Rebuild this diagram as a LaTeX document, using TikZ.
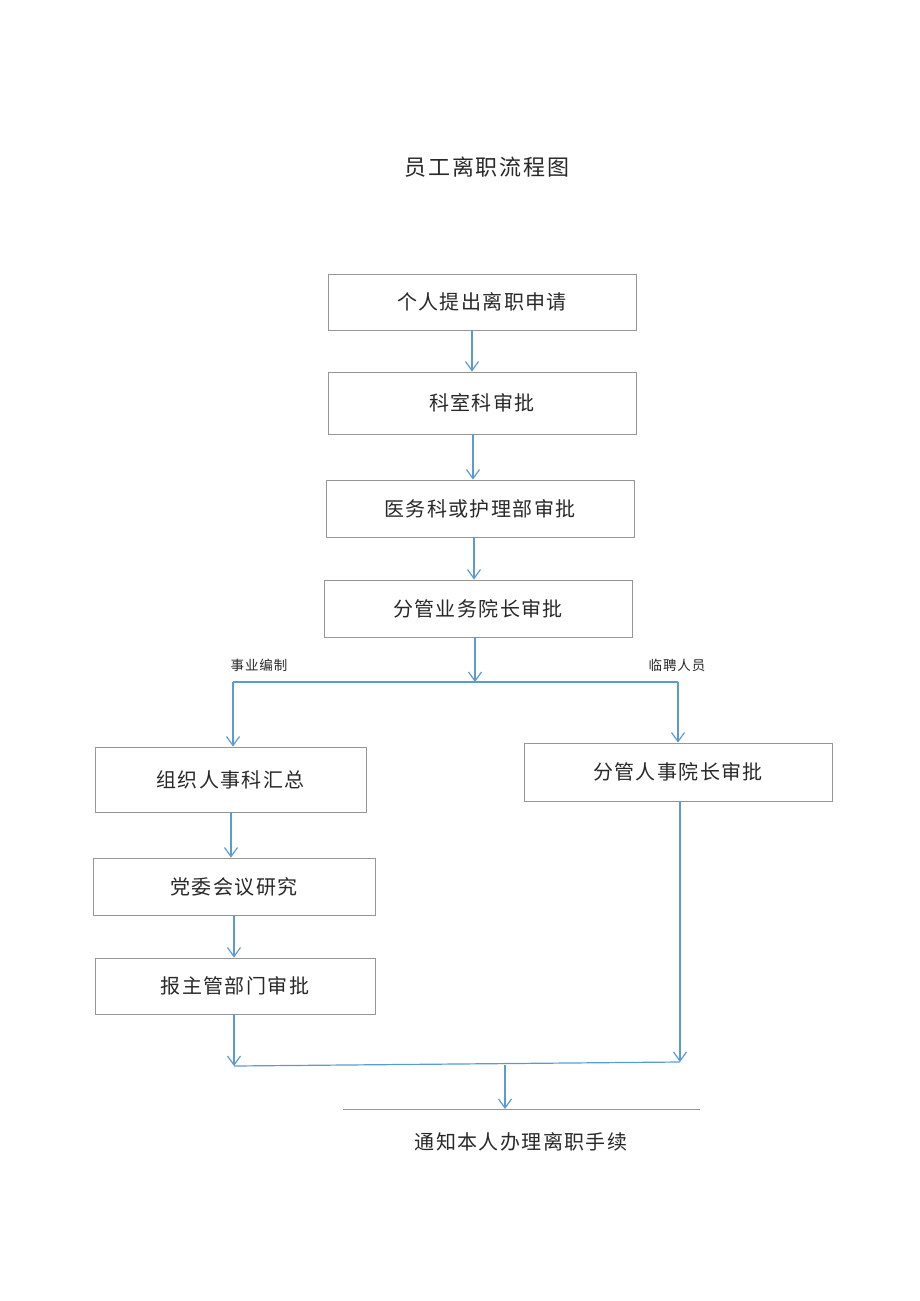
\documentclass[tikz,border=0pt]{standalone}
\usepackage{fontspec}
\newfontfamily\cjk{Noto Sans CJK SC}
\newfontfamily\cjks[LetterSpace=7]{Noto Sans CJK SC}
\newfontfamily\cjkt[LetterSpace=9]{Noto Sans CJK SC}
\usetikzlibrary{arrows.meta}
\definecolor{arrowblue}{RGB}{91,155,213}
\definecolor{boxgray}{RGB}{150,150,150}
\definecolor{txt}{RGB}{40,40,40}
\tikzset{
  stepbox/.style={draw=boxgray, line width=0.9pt, rectangle, inner sep=0pt, text=txt, font=\cjks\fontsize{20}{22}\selectfont},
  arr/.style={draw=arrowblue, line width=1.2pt, -{Straight Barb[length=9pt,width=13pt,line width=1.2pt]}},
  ln/.style={draw=arrowblue, line width=1.2pt},
  lbl/.style={text=txt, font=\cjks\fontsize{13.5}{15}\selectfont, inner sep=0pt}
}
\begin{document}
\begin{tikzpicture}[x=1pt,y=-1pt]
\useasboundingbox (0,0) rectangle (920,1301);
\node[text=txt, font=\cjkt\fontsize{22}{24}\selectfont, inner sep=0pt] (title) at (487,167) {员工离职流程图};
\node[stepbox, minimum width=308pt, minimum height=56pt] (b1) at (482,302) {个人提出离职申请};
\node[stepbox, minimum width=308pt, minimum height=62pt] (b2) at (482,403) {科室科审批};
\node[stepbox, minimum width=308pt, minimum height=57pt] (b3) at (480,508.5) {医务科或护理部审批};
\node[stepbox, minimum width=308pt, minimum height=57pt] (b4) at (478,608.5) {分管业务院长审批};
\node[stepbox, minimum width=271pt, minimum height=65pt] (b5) at (230.5,779.5) {组织人事科汇总};
\node[stepbox, minimum width=308pt, minimum height=58pt] (b6) at (678,772) {分管人事院长审批};
\node[stepbox, minimum width=282pt, minimum height=57pt] (b7) at (234,886.5) {党委会议研究};
\node[stepbox, minimum width=280pt, minimum height=56pt] (b8) at (235,986) {报主管部门审批};
\node[lbl] (l1) at (259,665) {事业编制};
\node[lbl] (l2) at (677,665) {临聘人员};
\coordinate (x1) at (472,0);
\coordinate (x2) at (473,0);
\coordinate (x3) at (474,0);
\coordinate (x5) at (231,0);
\coordinate (x7) at (234,0);
\coordinate (split) at (475,682);
\coordinate (sl) at (233,682);
\coordinate (sr) at (678,682);
\coordinate (jl) at (234,1066);
\coordinate (jr) at (680,1062);
\coordinate (jm) at (505,1065);
\coordinate (bar) at (505,1109);
\coordinate (barl) at (343,1109);
\coordinate (barr) at (700,1109);
\node[text=txt, font=\cjks\fontsize{20}{22}\selectfont, inner sep=0pt] (final) at (521,1142) {通知本人办理离职手续};
\draw[arr] (b1.south -| x1) -- (b2.north -| x1);
\draw[arr] (b2.south -| x2) -- (b3.north -| x2);
\draw[arr] (b3.south -| x3) -- (b4.north -| x3);
\draw[arr] (b4.south -| split) -- (split);
\draw[ln] (sl) -- (sr);
\draw[arr] (sl) -- (b5.north -| sl);
\draw[arr] (sr) -- (b6.north -| sr);
\draw[arr] (b5.south -| x5) -- (b7.north -| x5);
\draw[arr] (b7.south -| x7) -- (b8.north -| x7);
\draw[arr] (b8.south -| jl) -- (jl);
\draw[arr] (b6.south -| jr) -- (jr);
\draw[ln] (jl) -- (jr);
\draw[arr] (jm) -- (bar);
\draw[draw=boxgray, line width=1pt] (barl) -- (barr);
\end{tikzpicture}
\end{document}
